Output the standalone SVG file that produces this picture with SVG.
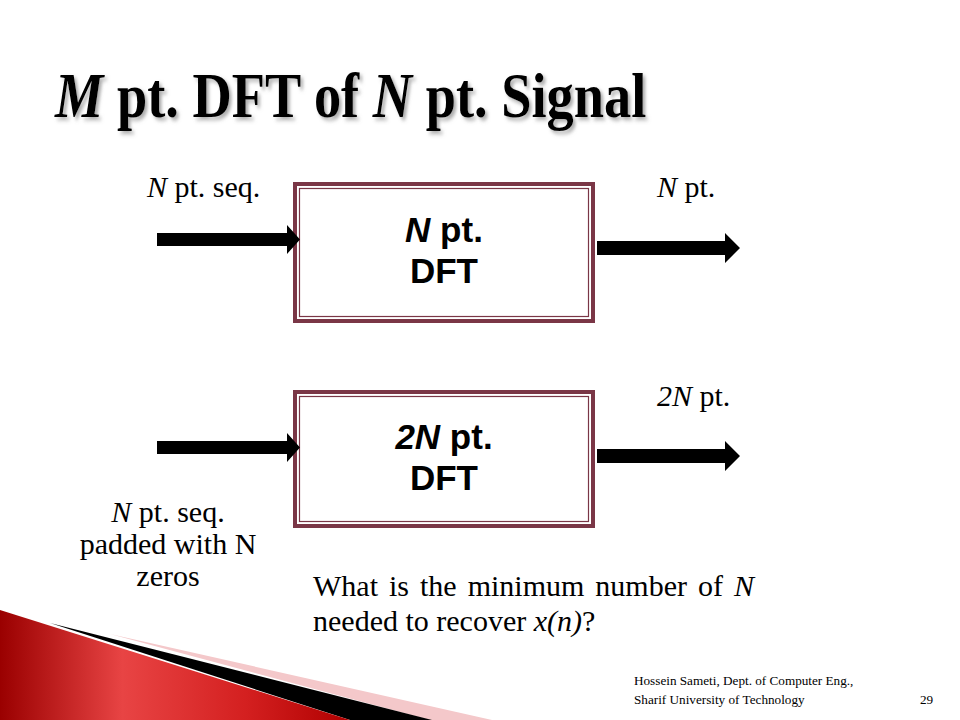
<svg xmlns="http://www.w3.org/2000/svg" width="960" height="720" viewBox="0 0 960 720">
<defs>
<style>
.lbl{font-family:"Liberation Serif","Times New Roman",serif;font-size:30px;fill:#000}
.box{fill:#fff;stroke:#7a3646;stroke-width:4}
.inner{fill:none;stroke:#7a3646;stroke-width:1.2}
.btxt{font-family:"Liberation Sans",Arial,sans-serif;font-weight:bold;font-size:35px;fill:#000;text-anchor:middle}
.foot{font-family:"Liberation Serif","Times New Roman",serif;font-size:13.2px;fill:#000}
.arr{fill:#000}
</style>
<filter id="sh" x="-5%" y="-20%" width="110%" height="150%">
<feDropShadow dx="3" dy="3" stdDeviation="2" flood-color="#777" flood-opacity="0.6"/>
</filter>
<linearGradient id="red" x1="0" y1="0" x2="1" y2="0">
<stop offset="0" stop-color="#9a0000"/>
<stop offset="0.35" stop-color="#e84444"/>
<stop offset="0.7" stop-color="#d42020"/>
<stop offset="1" stop-color="#b00000"/>
</linearGradient>
</defs>
<rect width="960" height="720" fill="#fff"/>

<g id="title">
<text transform="translate(55,117) scale(0.85,1)" font-family="Liberation Serif,'Times New Roman',serif" font-weight="bold" font-size="64" filter="url(#sh)"><tspan font-style="italic">M</tspan> pt. DFT of <tspan font-style="italic">N</tspan> pt. Signal</text>
</g>

<g id="decoration">
<polygon points="110,634 492,720 430,720" fill="#f4c8ca"/>
<polygon points="50,623 432,720 350,720" fill="#000"/>
<polygon points="0,610 350,720 0,720" fill="url(#red)"/>
</g>

<g id="box1">
<rect class="box" x="295" y="184" width="298" height="137"/>
<rect class="inner" x="299.5" y="188.5" width="289" height="128"/>
<text class="btxt" x="444" y="242"><tspan font-style="italic">N</tspan> pt.<tspan x="444" dy="41">DFT</tspan></text>
</g>

<g id="box2">
<rect class="box" x="295" y="392" width="298" height="134"/>
<rect class="inner" x="299.5" y="396.5" width="289" height="125"/>
<text class="btxt" x="444" y="449"><tspan font-style="italic">2N</tspan> pt.<tspan x="444" dy="41">DFT</tspan></text>
</g>

<g id="connectors">
<polygon class="arr" points="157,233 287,233 287,225 300,239.5 287,254 287,246 157,246"/>
<polygon class="arr" points="597,241 725,241 725,233 740,248 725,263 725,255 597,255"/>
<polygon class="arr" points="157,441 287,441 287,433 300,447.5 287,462 287,454 157,454"/>
<polygon class="arr" points="597,449 725,449 725,441 740,456 725,471 725,463 597,463"/>
</g>

<g id="labels">
<text class="lbl" x="147" y="197"><tspan font-style="italic">N</tspan> pt. seq.</text>
<text class="lbl" x="657" y="197"><tspan font-style="italic">N</tspan> pt.</text>
<text class="lbl" x="657" y="406"><tspan font-style="italic">2N</tspan> pt.</text>
<text class="lbl" x="168" y="522" text-anchor="middle"><tspan font-style="italic">N</tspan> pt. seq.</text>
<text class="lbl" x="168" y="554" text-anchor="middle">padded with N</text>
<text class="lbl" x="168" y="586" text-anchor="middle">zeros</text>
<text class="lbl" x="313" y="596" word-spacing="3.5">What is the minimum number of <tspan font-style="italic">N</tspan></text>
<text class="lbl" x="313" y="631">needed to recover <tspan font-style="italic">x(n)</tspan>?</text>
</g>

<g id="footer">
<text class="foot" x="634" y="685">Hossein Sameti, Dept. of Computer Eng.,</text>
<text class="foot" x="634" y="704">Sharif University of Technology</text>
<text class="foot" x="920" y="704">29</text>
</g>
</svg>
